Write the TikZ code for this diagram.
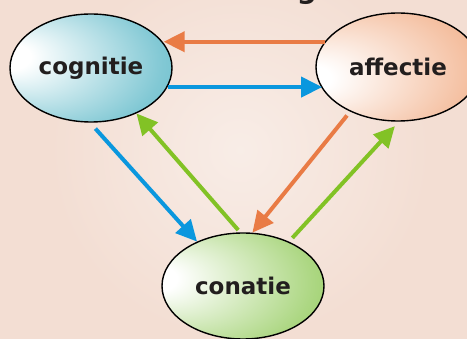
\documentclass[tikz,border=0pt]{standalone}
\usepackage{fontspec}
\setmainfont{DejaVu Sans}
\usetikzlibrary{shapes.geometric,arrows.meta}
\definecolor{bgc}{HTML}{F3DED3}
\definecolor{cogc}{HTML}{4CB1C2}
\definecolor{affc}{HTML}{EE9A69}
\definecolor{conc}{HTML}{7BBF38}
\definecolor{arrOr}{HTML}{E97B45}
\definecolor{arrBl}{HTML}{0A97DE}
\definecolor{arrGr}{HTML}{82C225}
\definecolor{txt}{HTML}{221E1E}
\pgfdeclareradialshading{cogshade}{\pgfpoint{-28bp}{6bp}}{color(0bp)=(white); color(6bp)=(white); color(32bp)=(cogc!70!white); color(50bp)=(cogc)}
\pgfdeclareradialshading{affshade}{\pgfpoint{-30bp}{-6bp}}{color(0bp)=(white); color(6bp)=(white); color(32bp)=(affc!62!white); color(50bp)=(affc)}
\pgfdeclareradialshading{conshade}{\pgfpoint{-30bp}{4bp}}{color(0bp)=(white); color(6bp)=(white); color(32bp)=(conc!62!white); color(50bp)=(conc)}
\tikzset{
  bubble/.style={ellipse, draw=black, line width=1.4pt, inner sep=0pt,
    minimum width=162pt, minimum height=108pt, text=txt,
    font=\bfseries\fontsize{23}{27}\selectfont},
  arr/.style={line width=4pt, -{Triangle[length=21pt,width=20pt]}},
}
\begin{document}
\begin{tikzpicture}[x=1pt,y=-1pt]
\useasboundingbox (0,0) rectangle (467,339);
% background
\fill[bgc] (0,0) rectangle (467,339);
\shade[inner color=white!45!bgc, outer color=bgc] (240,150) circle (190);
% title fragment
\node[font=\bfseries\fontsize{28}{30}\selectfont, text=txt, anchor=base, inner sep=0pt] (title) at (307,-1.5) {g};
% nodes
\node[bubble, shading=cogshade] (cog) at (91,68) {cognitie};
\node[bubble, shading=affshade, minimum width=164pt] (aff) at (398,67) {affectie};
\node[bubble, shading=conshade, minimum height=106pt] (con) at (243,286) {conatie};
% connectors
\draw[arr, arrOr] (aff.161.6) -- (cog.19.1 |- aff.161.6);
\draw[arr, arrBl] (cog.-14.9) -- (aff.-164.4 |- cog.-14.9);
\draw[arr, arrBl, shorten <=8pt] (cog.-91.4) -- (con.136.6);
\draw[arr, arrGr, shorten <=3pt] (con.93.7) -- (cog.-45.6);
\draw[arr, arrOr, shorten <=5pt] (aff.-137) -- (con.80.5);
\draw[arr, arrGr, shorten <=5pt, shorten >=6pt] (con.44) -- (aff.-89);
\end{tikzpicture}
\end{document}
